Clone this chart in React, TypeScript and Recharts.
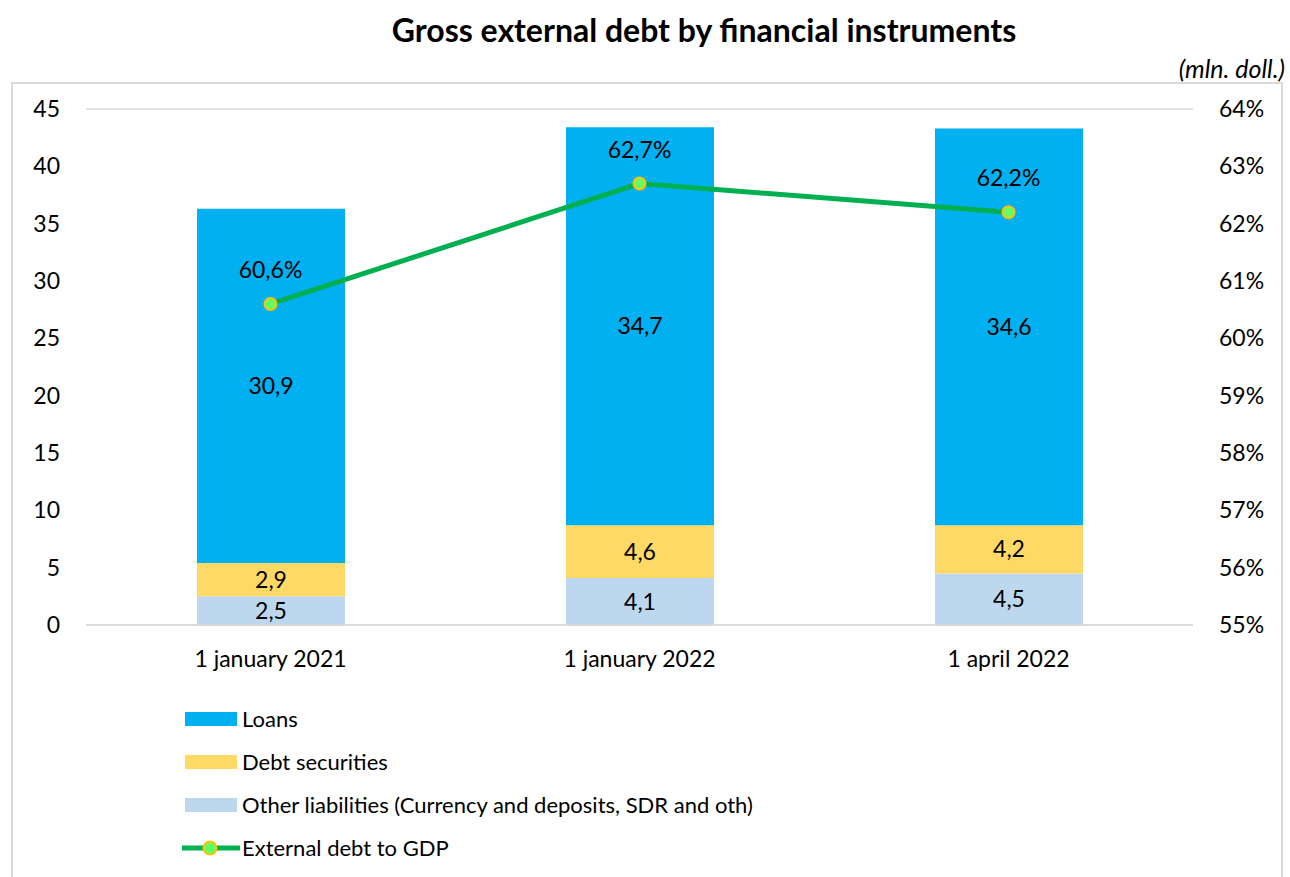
import { Bar, ComposedChart, CartesianGrid, LabelList, Line, XAxis, YAxis } from "recharts"

const categories = ["1 january 2021", "1 january 2022", "1 april 2022"]
const loans = [30.9, 34.7, 34.6]
const debtSecurities = [2.9, 4.6, 4.2]
const otherLiabilities = [2.5, 4.1, 4.5]
const debtToGdp = [60.6, 62.7, 62.2]

const leftTicks = [0, 5, 10, 15, 20, 25, 30, 35, 40, 45]
const rightTicks = [55, 56, 57, 58, 59, 60, 61, 62, 63, 64]

const data = categories.map((name, i) => ({
  name,
  loans: loans[i],
  debt: debtSecurities[i],
  other: otherLiabilities[i],
  gdp: debtToGdp[i],
}))

const FONT = "Lato, 'Open Sans', sans-serif"
const FS = 23
const comma = (v: any) => String(v).replace(".", ",")

const legendItems = [
  { label: "Loans", color: "#00b0f0", type: "bar" },
  { label: "Debt securities", color: "#ffd966", type: "bar" },
  { label: "Other liabilities (Currency and deposits, SDR and oth)", color: "#bdd7ee", type: "bar" },
  { label: "External debt to GDP", color: "#00b050", type: "line" },
]

function ChartLegend() {
  return (
    <div style={{ fontFamily: FONT, fontSize: 22, color: "#000" }}>
      {legendItems.map((it) => (
        <div key={it.label} style={{ display: "flex", alignItems: "center", height: 43 }}>
          <svg width={58} height={20} style={{ marginRight: 2 }}>
            {it.type === "bar" ? (
              <rect x={3} y={3} width={52} height={14} fill={it.color} />
            ) : (
              <g>
                <line x1={1} y1={10} x2={57} y2={10} stroke={it.color} strokeWidth={5} strokeLinecap="round" />
                <circle cx={28} cy={10} r={6.5} fill="#66ff66" stroke="#ffc000" strokeWidth={2} />
              </g>
            )}
          </svg>
          <span>{it.label}</span>
        </div>
      ))}
    </div>
  )
}

export default function App() {
  return (
    <div style={{ position: "absolute", left: 0, top: 0, width: 1290, height: 877, background: "#fff", overflow: "hidden" }}>
      <div
        style={{
          position: "absolute",
          left: 11,
          top: 82,
          width: 1272,
          height: 800,
          border: "2px solid #d9d9d9",
          boxSizing: "border-box",
        }}
      />
      <div
        style={{
          position: "absolute",
          top: 10,
          left: 0,
          width: 1408,
          textAlign: "center",
          fontFamily: FONT,
          fontWeight: 700,
          fontSize: 32,
          lineHeight: "40px",
        }}
      >
        Gross external debt by financial instruments
      </div>
      <div
        style={{
          position: "absolute",
          top: 53,
          right: 5,
          fontFamily: FONT,
          fontStyle: "italic",
          fontSize: 25,
          lineHeight: "30px",
        }}
      >
        (mln. doll.)
      </div>
      <div style={{ position: "absolute", left: 0, top: 0 }}>
        <ComposedChart
          width={1290}
          height={877}
          data={data}
          barSize={148}
          margin={{ top: 109, right: 0, bottom: 192, left: 0 }}
        >
          <CartesianGrid vertical={false} stroke="#d9d9d9" strokeWidth={1.5} />
          <XAxis
            dataKey="name"
            tickLine={false}
            axisLine={{ stroke: "#d9d9d9", strokeWidth: 1.5 }}
            tickSize={0}
            tickMargin={26}
            height={60}
            tick={{ fill: "#000", fontSize: FS, fontFamily: FONT }}
          />
          <YAxis
            yAxisId="left"
            domain={[0, 45]}
            ticks={leftTicks}
            width={86}
            tickLine={false}
            axisLine={false}
            tickSize={0}
            tickMargin={26}
            tick={{ fill: "#000", fontSize: FS, fontFamily: FONT }}
          />
          <YAxis
            yAxisId="right"
            orientation="right"
            domain={[55, 64]}
            ticks={rightTicks}
            width={97}
            tickLine={false}
            axisLine={false}
            tickSize={0}
            tickMargin={26}
            tickFormatter={(v) => `${v}%`}
            tick={{ fill: "#000", fontSize: FS, fontFamily: FONT }}
          />
          <Bar yAxisId="left" dataKey="other" stackId="a" fill="#bdd7ee" isAnimationActive={false}>
            <LabelList dataKey="other" position="center" formatter={comma} fill="#000" fontSize={FS} fontFamily={FONT} />
          </Bar>
          <Bar yAxisId="left" dataKey="debt" stackId="a" fill="#ffd966" isAnimationActive={false}>
            <LabelList dataKey="debt" position="center" formatter={comma} fill="#000" fontSize={FS} fontFamily={FONT} />
          </Bar>
          <Bar yAxisId="left" dataKey="loans" stackId="a" fill="#00b0f0" isAnimationActive={false}>
            <LabelList dataKey="loans" position="center" formatter={comma} fill="#000" fontSize={FS} fontFamily={FONT} />
          </Bar>
          <Line
            yAxisId="right"
            dataKey="gdp"
            stroke="#00b050"
            strokeWidth={5}
            dot={{ r: 6, fill: "#66ff66", stroke: "#ffc000", strokeWidth: 2 }}
            activeDot={false}
            isAnimationActive={false}
          >
            <LabelList
              dataKey="gdp"
              position="top"
              offset={26}
              formatter={(v: any) => `${comma(v)}%`}
              fill="#000"
              fontSize={FS}
              fontFamily={FONT}
            />
          </Line>
        </ComposedChart>
      </div>
      <div style={{ position: "absolute", left: 182, top: 697, width: 800 }}>
        <ChartLegend />
      </div>
    </div>
  )
}
